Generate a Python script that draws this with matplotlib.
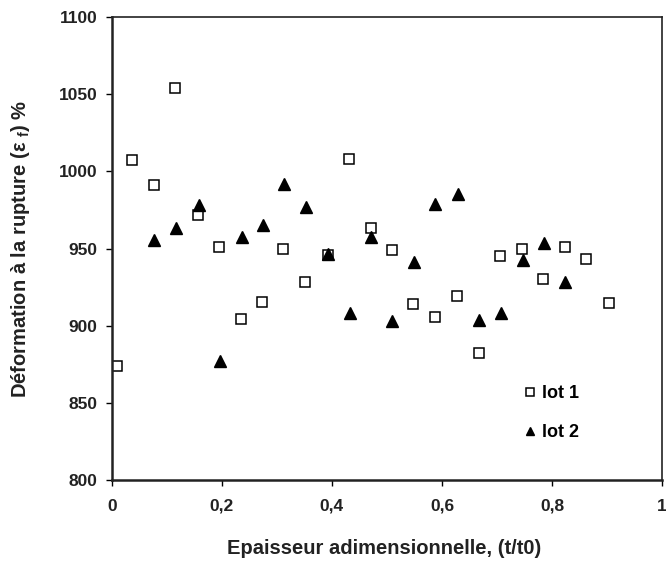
import matplotlib.pyplot as plt

plt.rcParams['font.family'] = ['Liberation Sans', 'DejaVu Sans']
plt.rcParams['mathtext.fontset'] = 'custom'
plt.rcParams['mathtext.bf'] = 'Liberation Sans:bold'
plt.rcParams['mathtext.rm'] = 'Liberation Sans'

# lot 1 (open squares)
x_lot1 = [0.009, 0.037, 0.076, 0.115, 0.156, 0.195, 0.234, 0.273, 0.311, 0.351,
          0.393, 0.431, 0.471, 0.509, 0.547, 0.587, 0.628, 0.667, 0.706, 0.745,
          0.784, 0.823, 0.862, 0.903]
y_lot1 = [874, 1007.5, 991, 1054, 972, 951, 904.5, 915.5, 950, 928,
          946, 1008, 963, 949, 914, 905.5, 919, 882, 945, 950,
          930, 951, 943, 915]

# lot 2 (filled triangles)
x_lot2 = [0.077, 0.116, 0.158, 0.197, 0.236, 0.274, 0.313, 0.352, 0.393, 0.433,
          0.471, 0.510, 0.549, 0.588, 0.630, 0.668, 0.708, 0.747, 0.785, 0.824]
y_lot2 = [955.5, 963.5, 978, 877, 957.5, 965.5, 992, 977, 946.5, 908,
          957.5, 903, 941.5, 979, 985, 904, 908, 942.5, 953.5, 928]

x_ticks = [0, 0.2, 0.4, 0.6, 0.8, 1]
x_labels = ['0', '0,2', '0,4', '0,6', '0,8', '1']
y_ticks = [800, 850, 900, 950, 1000, 1050, 1100]

fig = plt.figure(figsize=(6.66, 5.67), dpi=100)
ax = fig.add_axes([0.168, 0.1534, 0.826, 0.8166])

ax.plot(x_lot1, y_lot1, linestyle='none', marker='s', markersize=6.5,
        markerfacecolor='white', markeredgecolor='black', markeredgewidth=1.1,
        label='lot 1')
ax.plot(x_lot2, y_lot2, linestyle='none', marker='^', markersize=8,
        markerfacecolor='black', markeredgecolor='black', label='lot 2')

ax.set_xlim(0, 1)
ax.set_ylim(800, 1100)
ax.set_xticks(x_ticks)
ax.set_xticklabels(x_labels)
ax.set_yticks(y_ticks)

ax.tick_params(direction='out', length=4.5, width=1, labelsize=12.5, colors='black')
ax.tick_params(axis='x', pad=9)
ax.tick_params(axis='y', pad=6)
for lbl in ax.get_xticklabels() + ax.get_yticklabels():
    lbl.set_fontweight('bold')
    lbl.set_color('#222222')

ax.spines['left'].set_linewidth(1.8)
ax.spines['bottom'].set_linewidth(1.8)
ax.spines['top'].set_linewidth(1.2)
ax.spines['right'].set_linewidth(1.2)
for s in ax.spines.values():
    s.set_color('#222222')

ax.set_xlabel('Epaisseur adimensionnelle, (t/t0)', fontsize=14.5, fontweight='bold',
              color='#222222')
ax.set_ylabel('Déformation à la rupture (ε $_\\mathbf{f}$) %', fontsize=14.5,
              fontweight='bold', color='#222222')
ax.xaxis.set_label_coords(0.495, -0.128)
ax.yaxis.set_label_coords(-0.145, 0.5)

leg = ax.legend(loc='upper left', bbox_to_anchor=(0.7127, 0.24), frameon=False,
                handletextpad=0.1, labelspacing=1.22, handlelength=1.1,
                prop={'weight': 'bold', 'size': 13}, markerscale=0.8)

fig.savefig('out.png', dpi=100)
